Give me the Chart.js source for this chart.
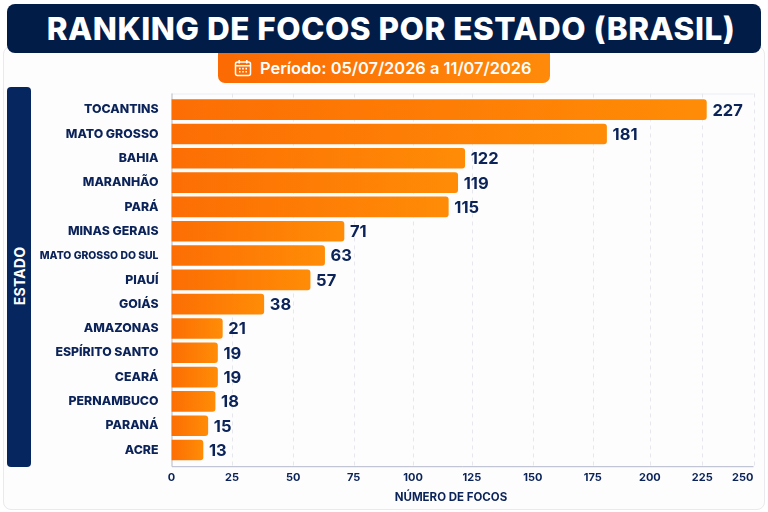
<!DOCTYPE html>
<html lang="pt-BR">
<head>
<meta charset="utf-8">
<title>Ranking de focos por estado</title>
<script src="https://cdn.jsdelivr.net/npm/chart.js@4/dist/chart.umd.min.js"></script>
<style>
  html, body { margin: 0; padding: 0; background: #fff; }
  body { width: 768px; height: 512px; position: relative; overflow: hidden; font-family: Inter, sans-serif; }
  .card { position: absolute; left: 3px; top: 46px; width: 760px; height: 462px; background: #fdfdfe; border: 1px solid #e9e9ee; border-radius: 8px; }
  .title { position: absolute; left: 7px; top: 4px; width: 754px; height: 49px; background: #021c48; border-radius: 8px; color: #fff; font-weight: 800; font-size: 31.5px; line-height: 49px; text-align: center; white-space: nowrap; letter-spacing: 0.5px; text-indent: 14px; }
  .period { position: absolute; left: 218px; top: 53px; width: 332px; height: 30px; background: linear-gradient(90deg, #fb6a03, #ff8a0a); border-radius: 0 0 7px 7px; color: #fff; font-weight: 600; font-size: 16.4px; line-height: 30px; white-space: nowrap; }
  .period svg { position: absolute; left: 16px; top: 6px; }
  .period span { position: absolute; left: 42px; }
  .band { position: absolute; left: 7px; top: 87px; width: 24px; height: 380px; background: #06265f; border-radius: 4px; }
  .band span { position: absolute; left: 12px; top: 189px; transform: translate(-50%, -50%) rotate(-90deg); color: #fff; font-weight: 700; font-size: 14px; letter-spacing: 0.2px; }
  .xtitle { position: absolute; left: 351px; top: 490px; width: 200px; text-align: center; color: #0b2358; font-weight: 700; font-size: 11.5px; line-height: 14px; }
  #chart { position: absolute; left: 0; top: 0; }
</style>
</head>
<body>
<div class="card"></div>
<div class="title">RANKING DE FOCOS POR ESTADO (BRASIL)</div>
<div class="period">
  <svg width="18" height="18" viewBox="0 0 18 18" fill="none" stroke="#fff" stroke-width="1.5">
    <rect x="1.5" y="3" width="15" height="13.5" rx="2"/>
    <path d="M1.5 6.8h15M5.2 1v3.6M12.8 1v3.6"/>
    <path d="M5 9.6h1.6M8.2 9.6h1.6M11.4 9.6h1.6M5 12.8h1.6M8.2 12.8h1.6M11.4 12.8h1.6" stroke-width="1.6"/>
  </svg>
  <span>Período: 05/07/2026 a 11/07/2026</span>
</div>
<div class="band"><span>ESTADO</span></div>
<canvas id="chart" width="768" height="512"></canvas>
<div class="xtitle">NÚMERO DE FOCOS</div>
<script>
const estados = ['TOCANTINS', 'MATO GROSSO', 'BAHIA', 'MARANHÃO', 'PARÁ', 'MINAS GERAIS', 'MATO GROSSO DO SUL', 'PIAUÍ', 'GOIÁS', 'AMAZONAS', 'ESPÍRITO SANTO', 'CEARÁ', 'PERNAMBUCO', 'PARANÁ', 'ACRE'];
const focos = [227, 181, 122, 119, 115, 71, 63, 57, 38, 21, 19, 19, 18, 15, 13];
const eixoValores = [0, 25, 50, 75, 100, 125, 150, 175, 200, 225, 250];
// the reference axis is not evenly spaced, share of the axis length at each tick
const eixoFracoes = [0, 0.104, 0.209, 0.313, 0.415, 0.516, 0.621, 0.724, 0.822, 0.912, 1];

const navy = '#0b2358';

class EixoFocos extends Chart.LinearScale {
  getPixelForValue(value) {
    let i = 0;
    while (i < eixoValores.length - 2 && value > eixoValores[i + 1]) i++;
    const t = (value - eixoValores[i]) / (eixoValores[i + 1] - eixoValores[i]);
    return this.getPixelForDecimal(eixoFracoes[i] + t * (eixoFracoes[i + 1] - eixoFracoes[i]));
  }
  _computeLabelItems(area) {
    const items = super._computeLabelItems(area);
    items[items.length - 1].options.textAlign = 'right';
    return items;
  }
}
EixoFocos.id = 'eixoFocos';
EixoFocos.defaults = Chart.LinearScale.defaults;
Chart.register(EixoFocos);

// grid and axis lines run a bit past the first and last band
const grade = {
  id: 'grade',
  beforeDatasetsDraw(chart) {
    const { ctx, chartArea, scales } = chart;
    const top = chartArea.top - 4, bottom = chartArea.bottom + 4;
    ctx.save();
    ctx.lineWidth = 1;
    ctx.strokeStyle = '#e6e7ed';
    ctx.setLineDash([4, 4]);
    eixoValores.slice(1).forEach(v => {
      const x = Math.round(scales.x.getPixelForValue(v)) + 0.5;
      ctx.beginPath(); ctx.moveTo(x, top); ctx.lineTo(x, bottom); ctx.stroke();
    });
    ctx.setLineDash([]);
    ctx.strokeStyle = '#ecedf1';
    ctx.beginPath(); ctx.moveTo(chartArea.left, top + 0.5); ctx.lineTo(chartArea.right, top + 0.5); ctx.stroke();
    ctx.strokeStyle = '#b4b8c9';
    ctx.beginPath();
    ctx.moveTo(chartArea.left + 0.5, top);
    ctx.lineTo(chartArea.left + 0.5, bottom + 0.5);
    ctx.lineTo(chartArea.right, bottom + 0.5);
    ctx.stroke();
    ctx.restore();
  }
};

const rotulos = {
  id: 'rotulos',
  afterDatasetsDraw(chart) {
    const { ctx } = chart;
    ctx.save();
    ctx.font = '700 16.5px Inter, sans-serif';
    ctx.fillStyle = navy;
    ctx.textAlign = 'left';
    ctx.textBaseline = 'middle';
    chart.getDatasetMeta(0).data.forEach((bar, i) => {
      ctx.fillText(focos[i], bar.x + 6, bar.y + 1);
    });
    ctx.restore();
  }
};

function corBarra(c) {
  const { chartArea, scales, ctx } = c.chart;
  if (!chartArea || c.parsed === undefined) return '#ff8000';
  const g = ctx.createLinearGradient(scales.x.left, 0, scales.x.getPixelForValue(c.parsed.x), 0);
  g.addColorStop(0, '#fc6e04');
  g.addColorStop(1, '#ff8c06');
  return g;
}

new Chart(document.getElementById('chart'), {
  type: 'bar',
  data: {
    labels: estados,
    datasets: [{
      data: focos,
      backgroundColor: corBarra,
      barThickness: 20,
      borderRadius: { topRight: 3, bottomRight: 3, topLeft: 0, bottomLeft: 0 },
      borderSkipped: false
    }]
  },
  options: {
    indexAxis: 'y',
    responsive: false,
    animation: false,
    events: [],
    layout: { padding: { top: 97.5, right: 14.5, bottom: 0, left: 0 } },
    plugins: { legend: { display: false }, tooltip: { enabled: false } },
    scales: {
      x: {
        type: 'eixoFocos',
        min: 0,
        max: 250,
        afterBuildTicks(scale) { scale.ticks = eixoValores.map(value => ({ value })); },
        afterFit(scale) { scale.height = 49.8; scale.paddingRight = 0; },
        grid: { display: false, drawTicks: false },
        border: { display: false },
        ticks: { color: navy, font: { family: 'Inter', size: 11, weight: '700' }, padding: 9, maxRotation: 0, autoSkip: false }
      },
      y: {
        afterFit(scale) { scale.width = 171.5; },
        grid: { display: false, drawTicks: false },
        border: { display: false },
        ticks: {
          color: navy,
          padding: 13,
          autoSkip: false,
          font: c => ({ family: 'Inter', size: estados[c.index].length > 15 ? 10.4 : 12.3, weight: '800' })
        }
      }
    }
  },
  plugins: [grade, rotulos]
});
</script>
</body>
</html>
